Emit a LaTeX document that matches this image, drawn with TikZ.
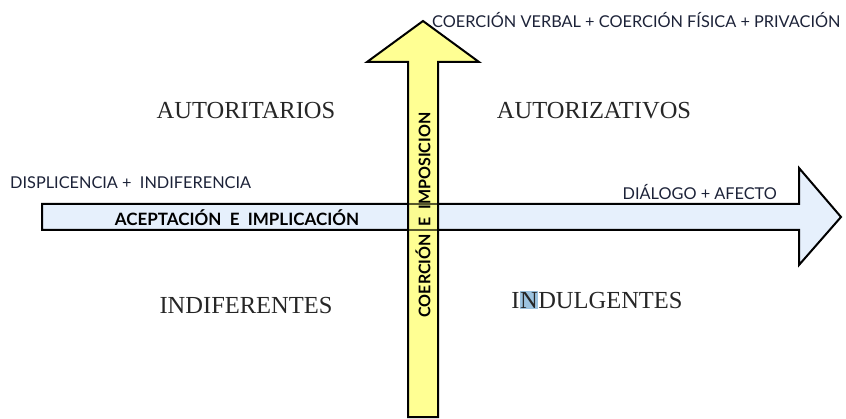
\documentclass[tikz,border=0pt]{standalone}
\usepackage{fontspec}
\setmainfont{Liberation Serif}
\newfontfamily\labfont{Lato}
\definecolor{hblue}{HTML}{E6F0FC}
\definecolor{vyellow}{HTML}{FFFF80}
\definecolor{txtc}{HTML}{1C2238}
\definecolor{hilite}{HTML}{9CC3E0}
\begin{document}
\begin{tikzpicture}[x=1pt,y=-1pt,
  arrowshape/.style={draw=black, line width=2pt, line join=miter},
  quad/.style={font=\fontsize{24.5}{28}\selectfont, text=black!85, inner sep=0pt},
  small/.style={font=\labfont\fontsize{16.3}{18}\selectfont, text=txtc, inner sep=0pt},
  axislab/.style={font=\labfont\bfseries\fontsize{17}{19}\selectfont, text=black, inner sep=0pt}]
\useasboundingbox (0,0) rectangle (846,419);
% horizontal arrow
\draw[arrowshape, fill=hblue] (42,204) -- (799,204) -- (799,168) -- (841,217) -- (799,265) -- (799,230) -- (42,230) -- cycle;
% vertical arrow
\draw[arrowshape, fill=vyellow, fill opacity=0.85] (408,417) -- (408,62) -- (367,62) -- (423,21) -- (479,62) -- (438,62) -- (438,417) -- cycle;
% horizontal shaft lines showing through
\draw[line width=2pt, draw opacity=0.6] (408,204) -- (438,204) (408,230) -- (438,230);
% labels
\node[small, anchor=west] (top) at (432,20) {COERCIÓN VERBAL + COERCIÓN FÍSICA + PRIVACIÓN};
\node[small, anchor=west] (left) at (10,183) {DISPLICENCIA +\ \ INDIFERENCIA};
\node[small, anchor=east] (right) at (777,192) {DIÁLOGO + AFECTO};
\node[axislab] (hlab) at (237,218) {ACEPTACIÓN\ \ E\ \ IMPLICACIÓN};
\node[axislab, font=\labfont\bfseries\fontsize{16}{18}\selectfont, rotate=90] (vlab) at (423,215) {COERCIÓN\ \ E\ \ IMPOSICION};
\node[quad] (q1) at (246,111) {AUTORITARIOS};
\node[quad] (q2) at (594,111) {AUTORIZATIVOS};
\node[quad] (q3) at (246,306) {INDIFERENTES};
\node[quad] (q4) at (597,300) {I{\setlength{\fboxsep}{0.5pt}\colorbox{hilite}{N}}DULGENTES};
\end{tikzpicture}
\end{document}
